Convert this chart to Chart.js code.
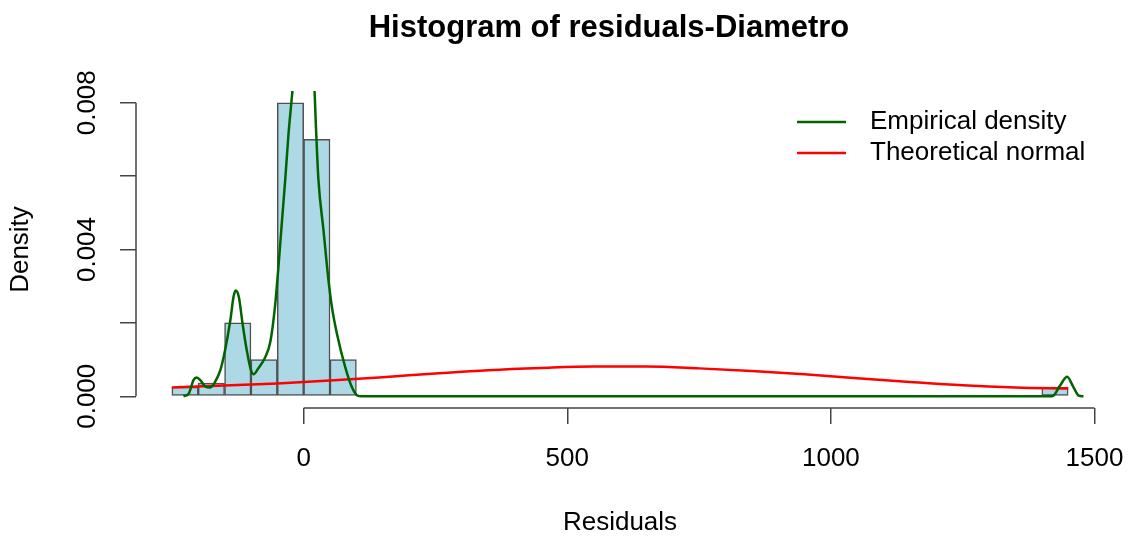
<!DOCTYPE html>
<html>
<head>
<meta charset="utf-8">
<title>Histogram of residuals-Diametro</title>
<script src="https://cdn.jsdelivr.net/npm/chart.js@4.4.1/dist/chart.umd.min.js"></script>
<style>
  body { margin: 0; background: #fff; }
  canvas { display: block; }
</style>
</head>
<body>
<canvas id="histChart" width="1129" height="543"></canvas>
<script>
// histogram bins (mid points, width 50) and densities
const binMids = [-225, -175, -125, -75, -25, 25, 75, 125, 175, 225, 275, 325, 375, 425, 475, 525, 575,
  625, 675, 725, 775, 825, 875, 925, 975, 1025, 1075, 1125, 1175, 1225, 1275, 1325, 1375, 1425];
const binDensity = [0.00025, 0.00036, 0.002, 0.001, 0.008, 0.007, 0.001,
  0, 0, 0, 0, 0, 0, 0, 0, 0, 0, 0, 0, 0, 0, 0, 0, 0, 0, 0, 0, 0, 0, 0, 0, 0, 0,
  0.00025];

// empirical density curve
const empX = [-228, -218, -209, -203, -196, -187, -177, -168, -158, -149, -139, -133, -129, -123, -116,
  -108, -100, -95, -86, -73, -63, -54, -48, -41, -35, -29, -24, -21, -12, 0, 12, 20.5, 23, 28, 37.6,
  47, 53.5, 63, 78.7, 91.4, 101, 110, 1420, 1435, 1448, 1460, 1470, 1479];
const empY = [0, 0.00007, 0.00044, 0.00051, 0.00044, 0.00027, 0.00024, 0.00039, 0.00071, 0.00126,
  0.00208, 0.00271, 0.00288, 0.00271, 0.00199, 0.00126, 0.00071, 0.0006, 0.00076, 0.00106, 0.0015,
  0.0025, 0.0035, 0.0048, 0.0059, 0.0071, 0.0079, 0.00836, 0.0094, 0.0099, 0.0094, 0.00836, 0.00745,
  0.0059, 0.00453, 0.00317, 0.00244, 0.00171, 0.0008, 0.00025, 0.00003, 0, 0, 0.0003, 0.00053,
  0.00025, 0.00002, 0];

// theoretical normal curve
const normX = [-250, -150, -50, 50, 150, 250, 350, 450, 550, 650, 750, 850, 950, 1050, 1150, 1250, 1350, 1450];
const normY = [0.00024, 0.00029, 0.00035, 0.00043, 0.00052, 0.00062, 0.00071, 0.00077, 0.00081,
  0.00081, 0.00076, 0.00069, 0.0006, 0.00049, 0.00039, 0.0003, 0.00024, 0.00021];

const xTicks = [0, 500, 1000, 1500];
const yTicks = [0, 0.002, 0.004, 0.006, 0.008];
const yTickLabels = ['0.000', '', '0.004', '', '0.008'];

const FONT = "'Liberation Sans', Arial, sans-serif";

const rStyle = {
  id: 'rStyle',
  afterDraw(chart) {
    const { ctx, chartArea, scales: { x, y } } = chart;
    ctx.save();
    // axis lines only span first..last tick, like base R
    ctx.strokeStyle = '#444';
    ctx.lineWidth = 1.5;
    ctx.beginPath();
    ctx.moveTo(x.getPixelForValue(xTicks[0]), chartArea.bottom);
    ctx.lineTo(x.getPixelForValue(xTicks[xTicks.length - 1]), chartArea.bottom);
    ctx.moveTo(chartArea.left, y.getPixelForValue(yTicks[0]));
    ctx.lineTo(chartArea.left, y.getPixelForValue(yTicks[yTicks.length - 1]));
    ctx.stroke();

    // rotated y tick labels
    ctx.fillStyle = '#000';
    ctx.font = '26px ' + FONT;
    ctx.textAlign = 'center';
    ctx.textBaseline = 'middle';
    yTicks.forEach((v, i) => {
      if (!yTickLabels[i]) return;
      ctx.save();
      ctx.translate(chartArea.left - 48, y.getPixelForValue(v));
      ctx.rotate(-Math.PI / 2);
      ctx.fillText(yTickLabels[i], 0, 0);
      ctx.restore();
    });

    // main title
    ctx.font = 'bold 31px ' + FONT;
    ctx.textBaseline = 'alphabetic';
    ctx.fillText('Histogram of residuals-Diametro', 609, 37);

    // legend
    ctx.font = '26px ' + FONT;
    ctx.textAlign = 'left';
    ctx.textBaseline = 'middle';
    const items = [
      { label: 'Empirical density', color: '#006400', yy: 122 },
      { label: 'Theoretical normal', color: '#ff0000', yy: 153 },
    ];
    items.forEach(it => {
      ctx.strokeStyle = it.color;
      ctx.lineWidth = 2.5;
      ctx.beginPath();
      ctx.moveTo(797, it.yy);
      ctx.lineTo(846, it.yy);
      ctx.stroke();
      ctx.fillStyle = '#000';
      ctx.fillText(it.label, 870, it.yy);
    });
    ctx.restore();
  }
};

new Chart(document.getElementById('histChart'), {
  type: 'bar',
  data: {
    datasets: [
      {
        type: 'line',
        label: 'Empirical density',
        data: empX.map((v, i) => ({ x: v, y: empY[i] })),
        borderColor: '#006400',
        borderWidth: 2.5,
        pointRadius: 0,
        cubicInterpolationMode: 'monotone',
        clip: 0,
        order: 1,
      },
      {
        type: 'line',
        label: 'Theoretical normal',
        data: normX.map((v, i) => ({ x: v, y: normY[i] })),
        borderColor: '#ff0000',
        borderWidth: 2.5,
        pointRadius: 0,
        cubicInterpolationMode: 'monotone',
        clip: 0,
        order: 2,
      },
      {
        label: 'Histogram',
        data: binMids.map((v, i) => ({ x: v, y: binDensity[i] })),
        backgroundColor: '#add8e6',
        borderColor: '#505050',
        borderWidth: 1.5,
        borderSkipped: false,
        categoryPercentage: 1,
        barPercentage: 1,
        order: 3,
      },
    ],
  },
  options: {
    responsive: false,
    animation: false,
    layout: { padding: { top: 91, right: 25, left: 0, bottom: 0 } },
    plugins: { legend: { display: false }, title: { display: false }, tooltip: { enabled: false } },
    scales: {
      x: {
        type: 'linear',
        min: -318,
        max: 1518,
        offset: false,
        border: { display: false },
        grid: { offset: false, drawOnChartArea: false, tickLength: 16, color: '#444', lineWidth: 1.5 },
        ticks: {
          autoSkip: false,
          maxRotation: 0,
          color: '#000',
          padding: 19,
          font: { family: FONT, size: 26 },
          callback: v => String(v),
        },
        title: {
          display: true,
          text: 'Residuals',
          color: '#000',
          font: { family: FONT, size: 26 },
          padding: { top: 0, bottom: 5 },
        },
        afterBuildTicks: s => { s.ticks = xTicks.map(v => ({ value: v })); },
        afterFit: s => { s.height = 135; s.paddingLeft = 0; s.paddingRight = 0; },
      },
      y: {
        min: -0.00032,
        max: 0.00832,
        border: { display: false },
        grid: { offset: false, drawOnChartArea: false, tickLength: 16, color: '#444', lineWidth: 1.5 },
        ticks: { callback: () => '' },
        title: {
          display: true,
          text: 'Density',
          color: '#000',
          font: { family: FONT, size: 26 },
          padding: { top: 5, bottom: 0 },
        },
        afterBuildTicks: s => { s.ticks = yTicks.map(v => ({ value: v })); },
        afterFit: s => { s.width = 136; s.paddingTop = 0; s.paddingBottom = 0; },
      },
    },
  },
  plugins: [rStyle],
});
</script>
</body>
</html>
